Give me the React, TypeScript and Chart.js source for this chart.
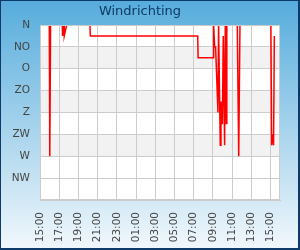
import React, { useEffect, useRef } from 'react';
import { Chart, registerables } from 'chart.js';

Chart.register(...registerables);

const TITLE = 'Windrichting';
const START_HOUR = 15;
const DIRECTION_LABELS = ['N', 'NO', 'O', 'ZO', 'Z', 'ZW', 'W', 'NW', ''];
// tick positions, hours after 15:00
const TICK_HOURS = [0, 2, 4, 6, 8, 10, 12, 14, 16, 18, 20, 22, 24];
// hours after 15:00
const HOURS = [
  0, 0.97, 1.02, 1.1, 2.32, 2.35, 2.5, 2.53, 2.78, 5.2, 5.24, 16.43, 16.47, 18.07, 18.09, 18.19, 18.29,
  18.54, 18.6, 18.78, 18.85, 18.94, 19.0, 19.09, 19.23, 19.3, 19.41, 19.46, 20.55, 20.7, 20.83, 24.05,
  24.13, 24.25, 24.33, 24.41,
];
// wind direction in degrees (0 = N)
const DIRECTIONS = [
  0, 0, 270, 0, 0, 22.5, 0, 22.5, 0, 0, 22.5, 22.5, 67.5, 67.5, 0, 45, 45, 180, 0, 247.5, 157.5, 202.5,
  202.5, 22.5, 247.5, 0, 202.5, 0, 0, 270, 0, 0, 247.5, 225, 247.5, 22.5,
];
const SHADED_BANDS = [
  [45, 90],
  [135, 180],
  [225, 270],
];

const FONT = 'DejaVu Sans';

export default function App() {
  const ref = useRef<HTMLCanvasElement>(null);

  useEffect(() => {
    document.body.style.margin = '0';
    const canvas = ref.current;
    if (!canvas) return;

    const backgroundPlugin = {
      id: 'bgPlugin',
      beforeDraw(chart: any) {
        const { ctx, width, height, chartArea: a } = chart;
        const y = chart.scales.y;
        ctx.save();
        const g = ctx.createLinearGradient(0, 0, 0, height);
        g.addColorStop(0, '#56acdc');
        g.addColorStop(1, '#f2f8fc');
        ctx.fillStyle = g;
        ctx.fillRect(0, 0, width, height);
        ctx.fillStyle = '#0d3a68';
        ctx.fillRect(0, 0, width, 1);
        ctx.fillRect(0, 0, 1, height);
        ctx.fillRect(width - 2, 0, 2, height);
        ctx.fillRect(0, height - 2, width, 2);
        ctx.fillStyle = '#ffffff';
        ctx.fillRect(a.left, a.top, a.right - a.left, a.bottom - a.top);
        ctx.fillStyle = '#f2f2f2';
        for (const [s, e] of SHADED_BANDS) {
          const y1 = y.getPixelForValue(s);
          const y2 = y.getPixelForValue(e);
          ctx.fillRect(a.left, Math.min(y1, y2), a.right - a.left, Math.abs(y2 - y1));
        }
        ctx.restore();
      },
      beforeDatasetsDraw(chart: any) {
        const { ctx, chartArea: a } = chart;
        ctx.save();
        ctx.strokeStyle = '#cccccc';
        ctx.lineWidth = 1;
        ctx.strokeRect(Math.round(a.left) + 0.5, Math.round(a.top) + 0.5, a.right - a.left - 1, a.bottom - a.top - 1);
        ctx.restore();
      },
    };

    const chart = new Chart(canvas, {
      type: 'line',
      data: {
        datasets: [
          {
            data: HOURS.map((h, i) => ({ x: h, y: DIRECTIONS[i] })),
            borderColor: '#ff0000',
            borderWidth: 1.5,
            pointRadius: 0,
            tension: 0,
            fill: false,
            clip: { left: 0, right: 0, top: -1, bottom: 0 } as any,
          },
        ],
      },
      options: {
        animation: false,
        responsive: false,
        layout: { padding: { left: 0, right: 20, top: 0, bottom: 0 } },
        plugins: {
          legend: { display: false },
          tooltip: { enabled: false },
          title: {
            display: true,
            text: TITLE,
            color: '#0d3b66',
            font: { family: FONT, size: 13, weight: 'normal' },
            padding: { top: 4, bottom: 5.4 },
          },
        },
        scales: {
          x: {
            type: 'linear',
            min: 0,
            max: 25,
            grid: { color: '#cccccc', lineWidth: 1, drawTicks: false },
            border: { color: '#cccccc', width: 1 },
            afterBuildTicks: (scale: any) => {
              scale.ticks = TICK_HOURS.map((v) => ({ value: v }));
            },
            afterFit: (scale: any) => {
              scale.height = 50;
            },
            ticks: {
              stepSize: 2,
              autoSkip: false,
              maxRotation: 90,
              minRotation: 90,
              padding: 12,
              color: '#444444',
              font: { family: FONT, size: 10.5 },
              callback: (v: any) => String((START_HOUR + Number(v)) % 24).padStart(2, '0') + ':00',
            },
          },
          y: {
            type: 'linear',
            min: 0,
            max: 360,
            reverse: true,
            grid: { color: '#cccccc', lineWidth: 1, drawTicks: false },
            border: { color: '#cccccc', width: 1 },
            afterFit: (scale: any) => {
              scale.width = 40;
            },
            ticks: {
              stepSize: 45,
              autoSkip: false,
              padding: 10,
              color: '#444444',
              font: { family: FONT, size: 10.5 },
              callback: (v: any) => DIRECTION_LABELS[Math.round(Number(v) / 45)] ?? '',
            },
          },
        },
      },
      plugins: [backgroundPlugin],
    });

    return () => chart.destroy();
  }, []);

  return (
    <div style={{ width: 300, height: 250 }}>
      <canvas ref={ref} width={300} height={250} style={{ display: 'block' }} />
    </div>
  );
}
